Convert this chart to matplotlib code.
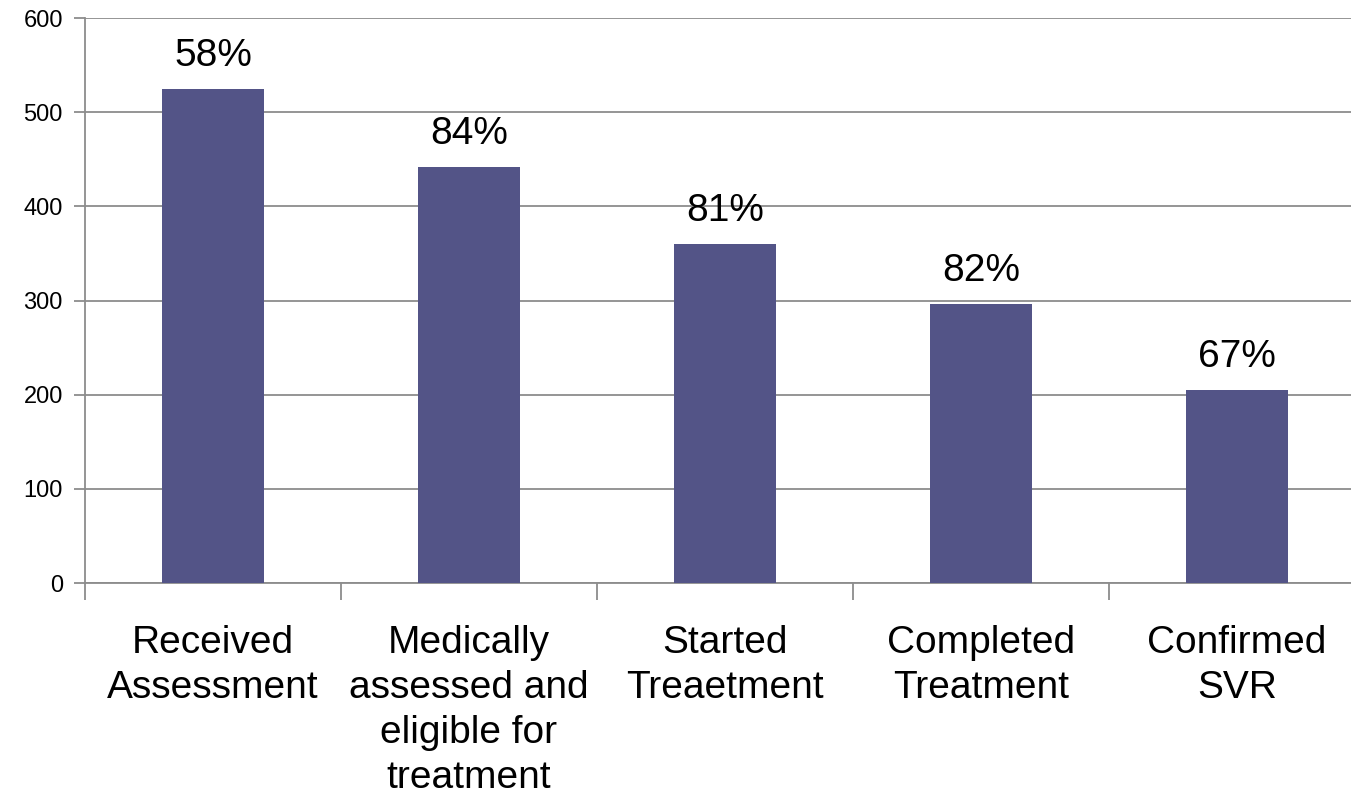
import matplotlib.pyplot as plt

# data
categories = ["Received\nAssessment", "Medically\nassessed and\neligible for\ntreatment",
              "Started\nTreaetment", "Completed\nTreatment", "Confirmed\nSVR"]
counts = [525, 442, 360, 296, 205]
percents = ["58%", "84%", "81%", "82%", "67%"]

plt.rcParams['font.family'] = ['Liberation Sans', 'DejaVu Sans']

fig = plt.figure(figsize=(13.51, 7.97), dpi=100)
ax = fig.add_axes([0.0629, 0.2685, 1.0104 - 0.0629, 0.9774 - 0.2685])

x = range(len(categories))
bars = ax.bar(x, counts, width=0.4, color='#535487', zorder=3)

for b, p in zip(bars, percents):
    ax.text(b.get_x() + b.get_width() / 2, b.get_height() + 16, p,
            ha='center', va='bottom', fontsize=28)

ax.set_ylim(0, 600)
ax.set_xlim(-0.5, len(categories) - 0.5)
ax.set_yticks(range(0, 601, 100))
ax.yaxis.grid(True, color='#8c8c8c', linewidth=1.3, zorder=0)

# category separators as major ticks, labels on minor ticks
ax.set_xticks([i + 0.5 for i in range(-1, len(categories))])
ax.set_xticklabels([])
ax.set_xticks(list(x), minor=True)
ax.set_xticklabels(categories, minor=True, fontsize=28, linespacing=1.32)
ax.tick_params(axis='x', which='minor', length=0, pad=30)
ax.tick_params(axis='x', which='major', length=12, color='#8c8c8c', width=1.3)
ax.tick_params(axis='y', length=8, color='#8c8c8c', width=1.3, labelsize=17, pad=8)

for s in ['top', 'right']:
    ax.spines[s].set_visible(False)
for s in ['left', 'bottom']:
    ax.spines[s].set_color('#8c8c8c')
    ax.spines[s].set_linewidth(1.3)

fig.savefig('out.png', dpi=100)
